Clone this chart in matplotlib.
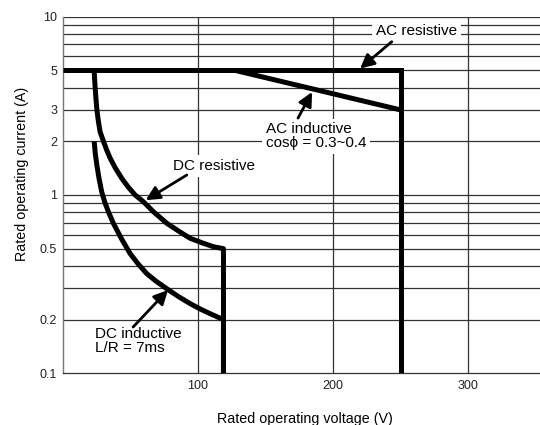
import matplotlib
matplotlib.use("Agg")
import matplotlib.pyplot as plt

plt.rcParams['font.family'] = ['Liberation Sans', 'DejaVu Sans']

# ---- data ----
ac_res_v = [0, 250, 250]
ac_res_a = [5, 5, 0.1]

ac_ind_v = [127.5, 250]
ac_ind_a = [5, 3]

dc_res_v = [23.4, 23.7, 24.1, 24.7, 25.4, 26.5, 27.8, 30.2, 32.5, 35.2, 39.0, 43.8, 48.5, 53.7,
            59.8, 67.2, 77.1, 85.5, 94.3, 103.0, 111.5, 119, 119]
dc_res_a = [5.0, 4.5, 4.05, 3.5, 3.02, 2.6, 2.26, 2.01, 1.8, 1.61, 1.42, 1.24, 1.11, 1.0,
            0.917, 0.806, 0.694, 0.63, 0.572, 0.54, 0.513, 0.5, 0.1]

dc_ind_v = [23.4, 24.2, 25.4, 27.0, 29.0, 31.3, 33.9, 37.6, 43.5, 50.0, 56.0, 62.3, 69.5, 77.1,
            85.5, 94.3, 102.0, 109.1, 119, 119]
dc_ind_a = [2.0, 1.72, 1.47, 1.24, 1.04, 0.91, 0.806, 0.694, 0.57, 0.469, 0.41, 0.362, 0.327,
            0.298, 0.27, 0.246, 0.229, 0.216, 0.2, 0.1]

y_ticks = [0.1, 0.2, 0.5, 1, 2, 3, 5, 10]
y_ticklabels = ["0.1", "0.2", "0.5", "1", "2", "3", "5", "10"]
x_ticks = [100, 200, 300]
x_ticklabels = ["100", "200", "300"]
y_grid = [0.2, 0.3, 0.4, 0.5, 0.6, 0.7, 0.8, 0.9, 1, 2, 3, 4, 5, 6, 7, 8, 9, 10]

# ---- figure ----
fig = plt.figure(figsize=(5.4, 4.25), dpi=100)
ax = fig.add_axes([62.5 / 540, (425 - 373.3) / 425, 1 - 62.5 / 540, (373.3 - 16.7) / 425])
ax.set_yscale('log')
ax.set_xlim(0, 353)
ax.set_ylim(0.1, 10)

grid_c = '#333333'
for g in y_grid:
    ax.axhline(g, color=grid_c, lw=0.9, zorder=1)
for g in x_ticks:
    ax.axvline(g, color=grid_c, lw=0.9, zorder=1)

for s in ['top', 'right']:
    ax.spines[s].set_visible(False)
ax.spines['left'].set_color('#777777')
ax.spines['bottom'].set_color(grid_c)
ax.spines['left'].set_linewidth(1.0)
ax.spines['bottom'].set_linewidth(0.9)

ax.set_yticks(y_ticks)
ax.set_yticklabels(y_ticklabels)
ax.yaxis.set_minor_locator(matplotlib.ticker.NullLocator())
ax.set_xticks(x_ticks)
ax.set_xticklabels(x_ticklabels)
ax.tick_params(axis='both', length=0, labelsize=9, labelcolor='#222222')
ax.tick_params(axis='y', pad=4)
ax.tick_params(axis='x', pad=5)

lw = 3.6
kw_sq = dict(color='black', lw=lw, solid_joinstyle='miter', solid_capstyle='butt', zorder=3)
kw_rd = dict(color='black', lw=lw, solid_joinstyle='round', solid_capstyle='butt', zorder=3)
ax.plot(ac_res_v, ac_res_a, **kw_sq)
ax.plot(ac_ind_v, ac_ind_a, **kw_sq)
ax.plot(dc_res_v, dc_res_a, **kw_rd)
ax.plot(dc_ind_v, dc_ind_a, **kw_rd)

arrow = dict(arrowstyle='-|>,head_length=0.6,head_width=0.3', mutation_scale=14,
             lw=2.0, color='black', shrinkA=0, shrinkB=0)
box = dict(boxstyle='square,pad=0.25', facecolor='white', edgecolor='none')
tfs = 11

# AC resistive
ax.text(261.7, 8.35, "AC resistive", fontsize=tfs, ha='center', va='center', bbox=box, zorder=4)
ax.annotate('', xy=(220, 5.12), xytext=(243.4, 7.24), arrowprops=arrow, zorder=5)

# AC inductive
ax.text(150.5, 2.13, "AC inductive\ncos\u03d5 = 0.3~0.4", fontsize=tfs, ha='left', va='center',
        linespacing=1.0, bbox=box, zorder=4)
ax.annotate('', xy=(184.5, 3.78), xytext=(174.1, 2.70), arrowprops=arrow, zorder=5)

# DC resistive
ax.text(112, 1.45, "DC resistive", fontsize=tfs, ha='center', va='center', bbox=box, zorder=4)
ax.annotate('', xy=(61.5, 0.935), xytext=(91.9, 1.295), arrowprops=arrow, zorder=5)

# DC inductive
ax.text(24.1, 0.1518, "DC inductive\nL/R = 7ms", fontsize=tfs, ha='left', va='center',
        linespacing=1.0, zorder=4)
ax.annotate('', xy=(78, 0.293), xytext=(52.2, 0.1818), arrowprops=arrow, zorder=5)

fig.text(305 / 540, 0.004, "Rated operating voltage (V)", fontsize=10.3, ha='center', va='baseline')
fig.text(22 / 540, 1 - 174 / 425, "Rated operating current (A)", fontsize=10.3, ha='center',
         va='center', rotation=90)

fig.savefig("out.png", dpi=100)
